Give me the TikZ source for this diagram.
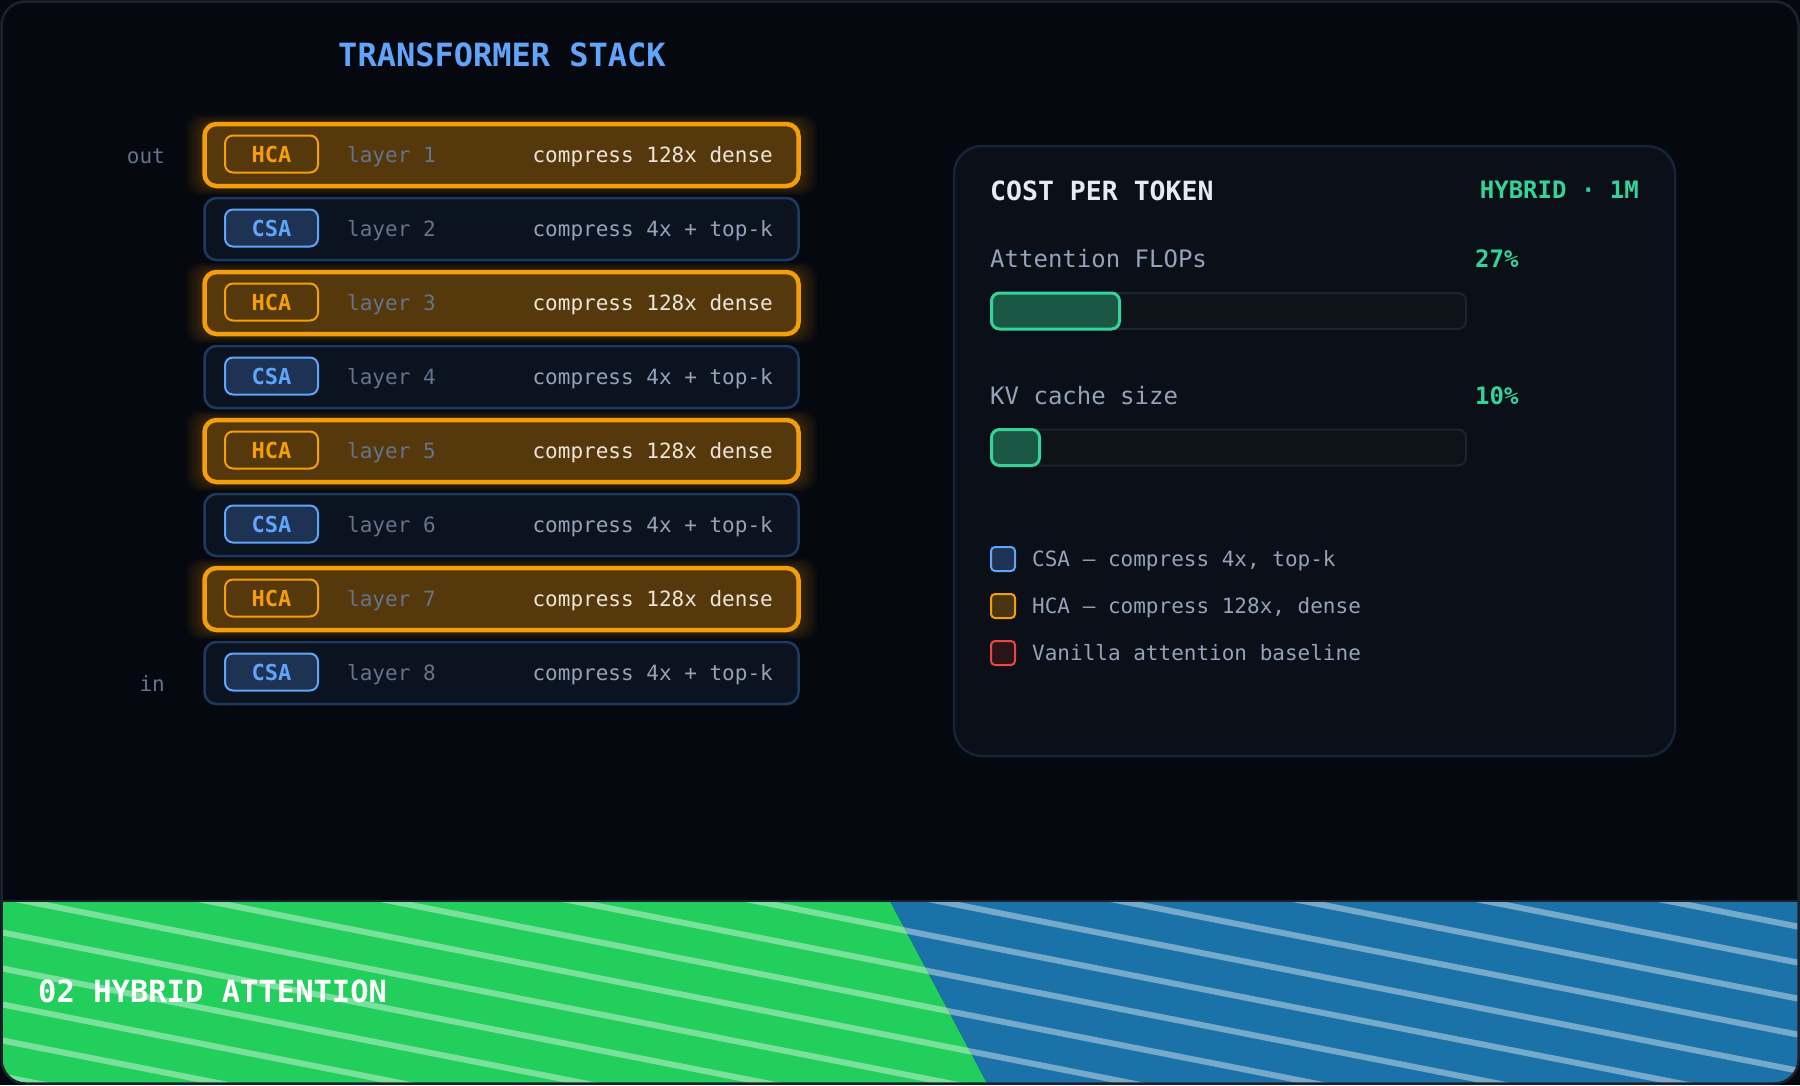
\documentclass[tikz,border=0pt]{standalone}
\usepackage{fontspec}
\setmonofont{DejaVu Sans Mono}
\usetikzlibrary{positioning}

\definecolor{bgdark}{HTML}{05080F}
\definecolor{framegray}{HTML}{1C212B}
\definecolor{titleblue}{HTML}{60A5FA}
\definecolor{hcaorange}{HTML}{F59E0B}
\definecolor{hcafill}{HTML}{55380C}
\definecolor{hcatext}{HTML}{EDE6D8}
\definecolor{csafill}{HTML}{0B1320}
\definecolor{csaedge}{HTML}{1E3A5F}
\definecolor{csabadgefill}{HTML}{1E3354}
\definecolor{mutedgray}{HTML}{64748B}
\definecolor{softgray}{HTML}{94A3B8}
\definecolor{panelfill}{HTML}{0A0F18}
\definecolor{paneledge}{HTML}{16243A}
\definecolor{headwhite}{HTML}{E6EBF2}
\definecolor{mint}{HTML}{34D399}
\definecolor{mintfill}{HTML}{1B5745}
\definecolor{trackfill}{HTML}{0E1219}
\definecolor{trackedge}{HTML}{1E242E}
\definecolor{redbase}{HTML}{EF4444}
\definecolor{redfill}{HTML}{2A1418}
\definecolor{hcakeyfill}{HTML}{4A3512}
\definecolor{bandgreen}{HTML}{22CE5C}
\definecolor{bandblue}{HTML}{1A72A8}

\tikzset{
  mono/.style={font=\ttfamily\fontsize{21}{25}\selectfont, inner sep=0pt,
    text height=14pt, text depth=2pt},
  layerbox/.style={rounded corners=12pt, minimum width=594pt,
    minimum height=62pt, inner sep=0pt},
  layer-HCA/.style={layerbox, draw=hcaorange, line width=4.5pt, fill=hcafill},
  layer-CSA/.style={layerbox, draw=csaedge, line width=2.5pt, fill=csafill},
  badge/.style={rounded corners=8pt, minimum width=93pt, minimum height=37pt,
    inner sep=0pt, line width=2pt,
    font=\ttfamily\bfseries\fontsize{22}{26}\selectfont},
  badge-HCA/.style={badge, draw=hcaorange, fill=hcafill, text=hcaorange},
  badge-CSA/.style={badge, draw=titleblue, fill=csabadgefill, text=titleblue},
  desc-HCA/.style={text=hcatext},
  desc-CSA/.style={text=softgray},
  glow/.style={fill=hcaorange, opacity=0.04, rounded corners=14pt},
  track/.style={draw=trackedge, line width=2pt, fill=trackfill,
    rounded corners=8pt, minimum width=475pt, minimum height=36pt, inner sep=0pt},
  barfill/.style={draw=mint, line width=3pt, fill=mintfill,
    rounded corners=8pt, minimum height=36pt, inner sep=0pt},
  metric/.style={font=\ttfamily\fontsize{24}{28}\selectfont, inner sep=0pt,
    text height=16pt, text depth=2.3pt},
  pct/.style={metric, font=\ttfamily\bfseries\fontsize{24}{28}\selectfont, text=mint},
  legendkey/.style={rounded corners=4pt, minimum size=24pt, line width=2pt, inner sep=0pt},
  stripe/.style={white, opacity=0.4, line width=6pt},
}

\begin{document}
\begin{tikzpicture}[x=1pt, y=-1pt]

  \useasboundingbox (0,0) rectangle (1800,1085);
  \fill[bgdark] (0,0) rectangle (1800,1085);

  % ---- bottom band: green and blue halves with light stripes ----
  \begin{scope}
    \clip[rounded corners=24pt] (2,2) rectangle (1798,1083);
    \clip (0,901) rectangle (1800,1085);
    \fill[bandgreen] (0,901) -- (890,901) -- (988,1085) -- (0,1085) -- cycle;
    \fill[bandblue] (890,901) -- (1800,901) -- (1800,1085) -- (988,1085) -- cycle;
    \foreach \k in {-4,...,10} {
      \draw[stripe] (0,{932-36*\k}) -- (1800,{932-36*\k+355});
    }
  \end{scope}
  \draw[framegray, line width=1.5pt] (0,901) -- (1800,901);
  \draw[framegray, line width=2.5pt, rounded corners=24pt] (1.5,1.5) rectangle (1798.5,1083.5);
  \node[font=\ttfamily\bfseries\fontsize{30.5}{36}\selectfont, text=white, anchor=west,
    inner sep=0pt] (bandtitle) at (38,991) {02 HYBRID ATTENTION};

  % ---- transformer stack ----
  \node[font=\ttfamily\bfseries\fontsize{32}{38}\selectfont, text=titleblue]
    (stacktitle) at (502,55) {TRANSFORMER STACK};

  \foreach \i in {1,3,5,7} {
    \foreach \g in {3,6,...,18} {
      \fill[glow] ({204-\g},{155+74*(\i-1)-31-\g*0.5})
        rectangle ({799+\g},{155+74*(\i-1)+31+\g*0.5});
    }
  }

  \foreach \i/\kind/\desc in {1/HCA/compress 128x dense, 2/CSA/compress 4x + top-k,
      3/HCA/compress 128x dense, 4/CSA/compress 4x + top-k,
      5/HCA/compress 128x dense, 6/CSA/compress 4x + top-k,
      7/HCA/compress 128x dense, 8/CSA/compress 4x + top-k} {
    \node[layer-\kind] (layer\i) at (501.5,{155+74*(\i-1)}) {};
    \node[badge-\kind] (badge\i) at (271.5,{154+74*(\i-1)}) {\kind};
    \node[mono, text=mutedgray, anchor=west] (name\i) at (347,{156+74*(\i-1)}) {layer \i};
    \node[mono, desc-\kind, anchor=east] (desc\i) at (773,{156+74*(\i-1)}) {\desc};
  }

  \node[mono, text=mutedgray, anchor=east] (outlabel) at (165,157) {out};
  \node[mono, text=mutedgray, anchor=east] (inlabel) at (165,685) {in};

  % ---- cost panel ----
  \node[draw=paneledge, line width=2.5pt, fill=panelfill, rounded corners=28pt,
    minimum width=721pt, minimum height=610pt] (costpanel) at (1314.5,451) {};
  \node[font=\ttfamily\bfseries\fontsize{26.5}{31}\selectfont, text=headwhite,
    anchor=west, inner sep=0pt] (costtitle) at (990,191) {COST PER TOKEN};
  \node[font=\ttfamily\bfseries\fontsize{24}{28}\selectfont, text=mint,
    anchor=east, inner sep=0pt] (hybridtag) at (1639,190) {HYBRID · 1M};

  \node[metric, text=softgray, anchor=west] (flopslabel) at (990,261) {Attention FLOPs};
  \node[pct, anchor=west] (flopspct) at (1475,261) {27\%};
  \node[track, anchor=west] (flopsbar) at (990,311) {};
  \node[barfill, minimum width=128pt, anchor=west] (flopsfill) at (flopsbar.west) {};

  \node[metric, text=softgray, anchor=west] (kvlabel) at (990,398) {KV cache size};
  \node[pct, anchor=west] (kvpct) at (1475,398) {10\%};
  \node[track, anchor=west] (kvbar) at (990,447.5) {};
  \node[barfill, minimum width=48pt, anchor=west] (kvfill) at (kvbar.west) {};

  % ---- legend ----
  \node[legendkey, draw=titleblue, fill=csabadgefill] (csakey) at (1003,559) {};
  \node[mono, text=softgray, anchor=west] (csaitem) at (1032,560) {CSA — compress 4x, top-k};
  \node[legendkey, draw=hcaorange, fill=hcakeyfill] (hcakey) at (1003,606) {};
  \node[mono, text=softgray, anchor=west] (hcaitem) at (1032,607) {HCA — compress 128x, dense};
  \node[legendkey, draw=redbase, fill=redfill] (basekey) at (1003,653) {};
  \node[mono, text=softgray, anchor=west] (baseitem) at (1032,654) {Vanilla attention baseline};

\end{tikzpicture}
\end{document}
